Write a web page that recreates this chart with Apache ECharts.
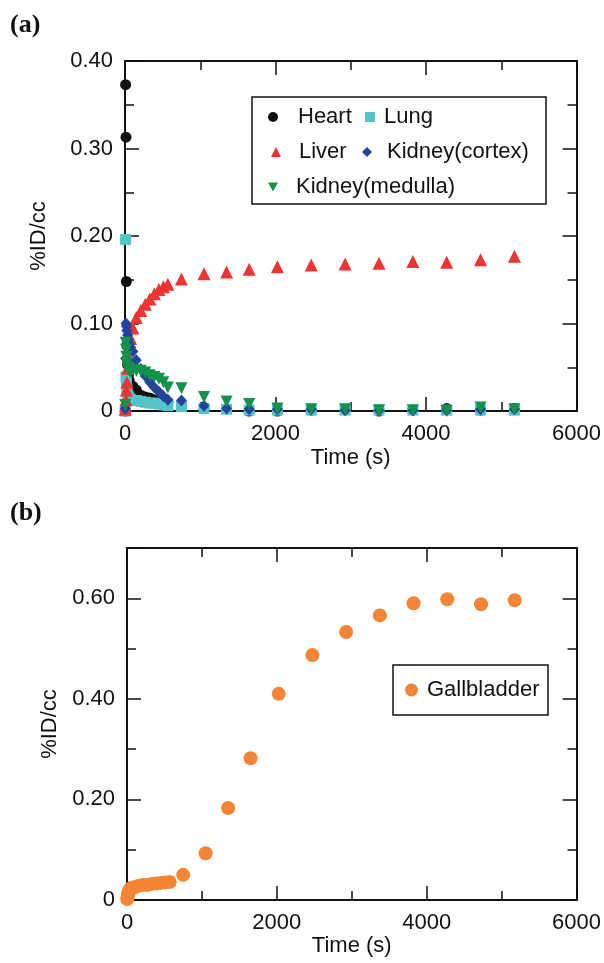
<!DOCTYPE html>
<html>
<head>
<meta charset="utf-8">
<script src="https://cdn.jsdelivr.net/npm/echarts@6/dist/echarts.min.js"></script>
<style>
  html, body { margin: 0; background: #fff; }
  #chart { width: 604px; height: 963px; }
</style>
</head>
<body>
<div id="chart"></div>
<script>
// frame mid-times (s)
var times = [3, 8, 13, 18, 25, 35, 45, 55, 75, 105, 150, 210, 270, 330, 390, 450, 510, 570,
             750, 1050, 1350, 1650, 2025, 2475, 2925, 3375, 3825, 4275, 4725, 5175];

// %ID/cc, panel (a)
var heart   = [0.000, 0.373, 0.313, 0.148, 0.075, 0.053, 0.041, 0.035, 0.030, 0.028, 0.024, 0.018, 0.016, 0.015, 0.013, 0.012, 0.011, 0.010,
               0.006, 0.003, -0.002, 0.000, 0.000, 0.001, -0.002, 0.000, 0.001, 0.003, 0.001, 0.003];
var lung    = [0.000, 0.196, 0.039, 0.032, 0.024, 0.018, 0.016, 0.014, 0.013, 0.012, 0.012, 0.011, 0.010, 0.009, 0.009, 0.008, 0.007, 0.006,
               0.005, 0.003, 0.002, 0.001, 0.001, 0.001, 0.001, 0.001, 0.001, 0.001, 0.001, 0.001];
var liver   = [0.002, 0.006, 0.013, 0.024, 0.033, 0.049, 0.062, 0.075, 0.083, 0.095, 0.107, 0.115, 0.122, 0.128, 0.134, 0.139, 0.142, 0.145,
               0.151, 0.157, 0.159, 0.162, 0.165, 0.167, 0.168, 0.169, 0.171, 0.170, 0.173, 0.177];
var cortex  = [0.003, 0.060, 0.100, 0.097, 0.092, 0.087, 0.082, 0.077, 0.073, 0.068, 0.058, 0.048, 0.040, 0.033, 0.027, 0.022, 0.017, 0.013,
               0.012, 0.006, 0.003, 0.002, 0.002, 0.002, 0.001, 0.001, 0.001, 0.001, 0.002, 0.002];
var medulla = [0.007, 0.078, 0.070, 0.062, 0.055, 0.050, 0.047, 0.046, 0.045, 0.047, 0.046, 0.046, 0.044, 0.041, 0.039, 0.037, 0.033, 0.027,
               0.026, 0.016, 0.011, 0.008, 0.003, 0.002, 0.002, 0.001, 0.001, 0.000, 0.004, 0.002];

// %ID/cc, panel (b)
var gallbladder = [0.002, 0.006, 0.010, 0.014, 0.018, 0.020, 0.022, 0.024, 0.024, 0.026, 0.028, 0.030, 0.030, 0.032, 0.033, 0.034, 0.035, 0.036,
                   0.050, 0.093, 0.183, 0.282, 0.410, 0.487, 0.533, 0.566, 0.590, 0.598, 0.588, 0.596];

var FONT = 'Liberation Sans';
var FS = 22;
var INK = '#111';
var DOWN_TRI = 'path://M0,0 L10,0 L5,9 Z';

function pairs(vals) {
    var out = [];
    for (var i = 0; i < times.length; i++) out.push([times[i], vals[i]]);
    return out;
}

// four axes per side pair: labelled major, minor ticks, mirrored major, mirrored minor
function axisSet(grid, min, max, major, minor, pos, mirror, label, name, nameGap) {
    var base = { type: 'value', gridIndex: grid, min: min, max: max, splitLine: { show: false } };
    var line = { show: true, onZero: false, lineStyle: { color: INK, width: 2 } };
    var noLine = { show: false, onZero: false };
    function tick(len) { return { show: true, inside: true, length: len, lineStyle: { color: INK, width: 1.5 } }; }
    var main = Object.assign({}, base, {
        position: pos, interval: major, axisLine: line, axisTick: tick(14),
        axisLabel: Object.assign({ show: true, margin: 12, color: INK, fontSize: FS, fontFamily: FONT }, label),
        name: name, nameLocation: 'middle', nameGap: nameGap,
        nameTextStyle: { color: INK, fontSize: FS, fontFamily: FONT }
    });
    return [
        main,
        Object.assign({}, base, { position: pos, interval: minor, axisLine: noLine, axisTick: tick(9), axisLabel: { show: false } }),
        Object.assign({}, base, { position: mirror, interval: major, axisLine: line, axisTick: tick(14), axisLabel: { show: false } }),
        Object.assign({}, base, { position: mirror, interval: minor, axisLine: noLine, axisTick: tick(9), axisLabel: { show: false } })
    ];
}

var xFmt = { formatter: function (v) { return String(v); } };
var yFmtA = { formatter: function (v) { return v === 0 ? '0' : v.toFixed(2); } };
var yFmtB = { formatter: function (v) { return v === 0 ? '0' : (v > 0.65 ? '' : v.toFixed(2)); } };

var xAxes = axisSet(0, 0, 6000, 2000, 1000, 'bottom', 'top', xFmt, 'Time (s)', 36)
    .concat(axisSet(1, 0, 6000, 2000, 1000, 'bottom', 'top', xFmt, 'Time (s)', 35));
var yAxes = axisSet(0, 0, 0.4, 0.1, 0.05, 'left', 'right', yFmtA, '%ID/cc', 75)
    .concat(axisSet(1, 0, 0.7, 0.2, 0.1, 'left', 'right', yFmtB, '%ID/cc', 66));

function scatter(name, vals, color, symbol, size, panel) {
    return {
        name: name, type: 'scatter', data: pairs(vals),
        xAxisIndex: panel * 4, yAxisIndex: panel * 4,
        symbol: symbol, symbolSize: size,
        itemStyle: { color: color, opacity: 1 }
    };
}

function legendAt(name, left, top, size, pad) {
    return {
        data: [name], left: left, top: top, padding: 0, itemWidth: size, itemHeight: size,
        textStyle: { color: INK, fontSize: FS, fontFamily: FONT, padding: [0, 0, 0, pad] }
    };
}

var chart = echarts.init(document.getElementById('chart'));
chart.setOption({
    animation: false,
    backgroundColor: '#fff',
    grid: [
        { left: 125, top: 61, width: 456, height: 350 },
        { left: 127, top: 548, width: 457, height: 352 }
    ],
    xAxis: xAxes,
    yAxis: yAxes,
    legend: [
        legendAt('Heart', 268, 106, 10, 15),
        legendAt('Lung', 365, 106, 10, 4),
        legendAt('Liver', 271, 141, 10, 13),
        legendAt('Kidney(cortex)', 362, 141, 10, 10),
        legendAt('Kidney(medulla)', 268, 176, 10, 13),
        legendAt('Gallbladder', 405, 679, 13, 4)
    ],
    graphic: [
        { type: 'rect', shape: { x: 252, y: 97, width: 294, height: 107 }, style: { fill: 'none', stroke: INK, lineWidth: 1.5 } },
        { type: 'rect', shape: { x: 393, y: 665, width: 155, height: 50 }, style: { fill: 'none', stroke: INK, lineWidth: 1.5 } },
        { type: 'text', left: 10, top: 12, style: { text: '(a)', fill: INK, font: 'bold 26px "Liberation Serif"' } },
        { type: 'text', left: 10, top: 500, style: { text: '(b)', fill: INK, font: 'bold 26px "Liberation Serif"' } }
    ],
    series: [
        scatter('Heart', heart, '#111111', 'circle', 11, 0),
        scatter('Lung', lung, '#55c4c8', 'rect', 11, 0),
        scatter('Liver', liver, '#ee3333', 'triangle', 13, 0),
        scatter('Kidney(cortex)', cortex, '#22449c', 'diamond', [11, 12], 0),
        scatter('Kidney(medulla)', medulla, '#12924a', DOWN_TRI, 12, 0),
        scatter('Gallbladder', gallbladder, '#f48534', 'circle', 14, 1)
    ]
});
</script>
</body>
</html>
